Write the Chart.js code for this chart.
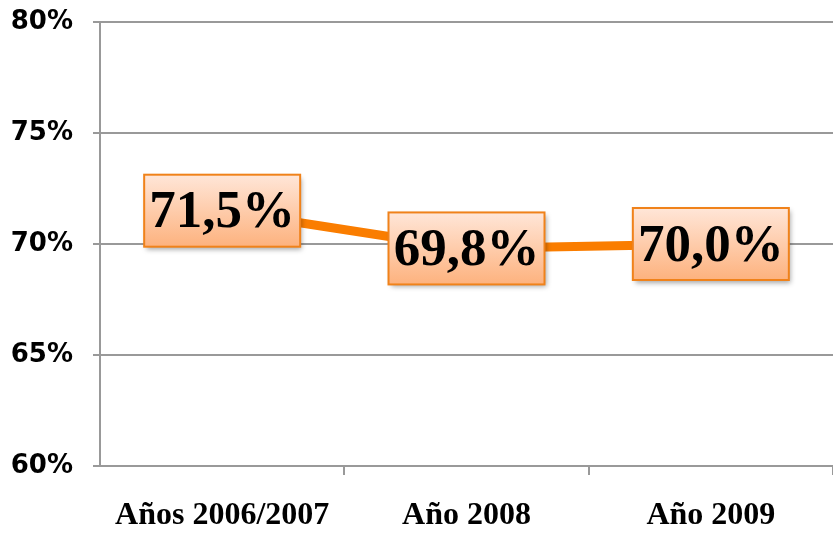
<!DOCTYPE html>
<html>
<head>
<meta charset="utf-8">
<script src="https://cdn.jsdelivr.net/npm/chart.js@4"></script>
<style>
  html, body { margin: 0; padding: 0; background: #fff; }
  #wrap { width: 833px; height: 533px; }
</style>
</head>
<body>
<div id="wrap"><canvas id="chart" width="833" height="533"></canvas></div>
<script>
const categories = ['Años 2006/2007', 'Año 2008', 'Año 2009'];
const values = [71.5, 69.8, 70.0];
const valueLabels = ['71,5%', '69,8%', '70,0%'];
const yTicks = [60, 65, 70, 75, 80];

// draws the boxed value labels over each point
const boxLabels = {
  id: 'boxLabels',
  afterDatasetsDraw(chart) {
    const ctx = chart.ctx;
    const meta = chart.getDatasetMeta(0);
    const w = 156, h = 72;
    meta.data.forEach((pt, i) => {
      const x = pt.x - w / 2;
      const y = pt.y - h / 2;
      ctx.save();
      ctx.shadowColor = 'rgba(0,0,0,0.35)';
      ctx.shadowBlur = 5;
      ctx.shadowOffsetX = 2;
      ctx.shadowOffsetY = 3;
      const grad = ctx.createLinearGradient(0, y, 0, y + h);
      grad.addColorStop(0, '#ffe6d8');
      grad.addColorStop(1, '#fdb27e');
      ctx.fillStyle = grad;
      ctx.fillRect(x, y, w, h);
      ctx.restore();
      ctx.save();
      ctx.strokeStyle = '#f0821a';
      ctx.lineWidth = 2;
      ctx.strokeRect(x, y, w, h);
      ctx.fillStyle = '#000';
      ctx.font = 'bold 53px "Liberation Serif"';
      ctx.textAlign = 'center';
      ctx.textBaseline = 'middle';
      ctx.fillText(valueLabels[i], pt.x, pt.y + 3);
      ctx.restore();
    });
  }
};

new Chart(document.getElementById('chart'), {
  type: 'line',
  data: {
    labels: categories,
    datasets: [{
      data: values,
      borderColor: '#fa7d00',
      borderWidth: 9,
      pointRadius: 0,
      tension: 0,
      fill: false
    }]
  },
  options: {
    responsive: false,
    animation: false,
    layout: { padding: { top: 22, right: 0, left: 0, bottom: 0 } },
    plugins: {
      legend: { display: false },
      tooltip: { enabled: false }
    },
    scales: {
      x: {
        offset: true,
        grid: {
          offset: true,
          drawOnChartArea: false,
          color: c => (c.index === 0 || c.index >= categories.length) ? 'rgba(0,0,0,0)' : '#999',
          lineWidth: 2,
          tickLength: 9
        },
        border: { color: '#999', width: 2 },
        ticks: {
          color: '#000',
          padding: 22,
          maxRotation: 0,
          font: { family: '"Liberation Serif"', size: 32, weight: 'bold' }
        },
        afterFit(axis) {
          axis.height = 67;
          axis.paddingLeft = 0;
          axis.paddingRight = 0;
        }
      },
      y: {
        min: 60,
        max: 80,
        afterBuildTicks(axis) { axis.ticks = yTicks.map(v => ({ value: v })); },
        grid: {
          color: '#999',
          lineWidth: 2,
          tickLength: 7
        },
        border: { color: '#999', width: 2 },
        ticks: {
          color: '#000',
          padding: 20,
          font: { family: '"DejaVu Sans"', size: 26, weight: 'bold' },
          callback: v => v + '%'
        },
        afterFit(axis) {
          axis.width = 100;
          axis.paddingTop = 0;
          axis.paddingBottom = 0;
        }
      }
    }
  },
  plugins: [boxLabels]
});
</script>
</body>
</html>
